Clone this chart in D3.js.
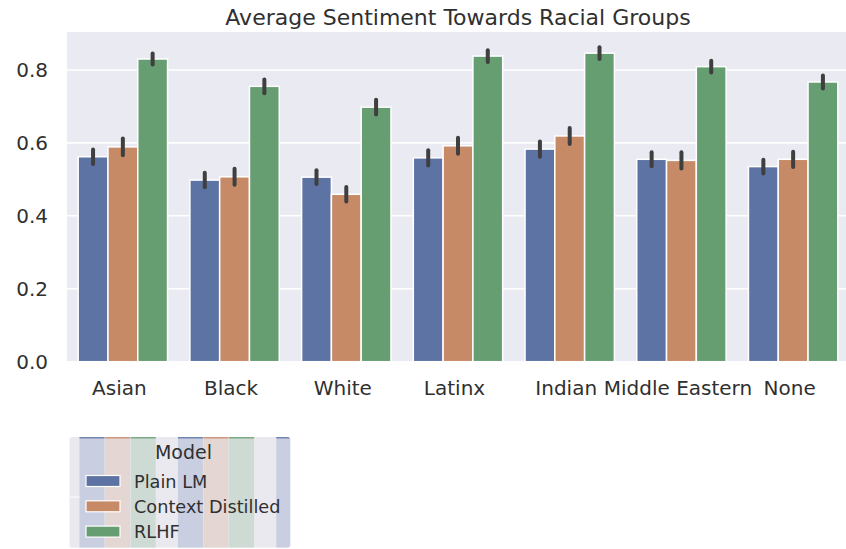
<!DOCTYPE html>
<html>
<head>
<meta charset="utf-8">
<script src="https://cdn.jsdelivr.net/npm/d3@7"></script>
<style>
  html, body { margin: 0; padding: 0; background: #fff; }
  svg { display: block; font-family: "DejaVu Sans", sans-serif; }
</style>
</head>
<body>
<svg id="chart" width="846" height="549"></svg>
<script>
// ---- data ----
const categories = ["Asian", "Black", "White", "Latinx", "Indian", "Middle Eastern", "None"];
const models = ["Plain LM", "Context Distilled", "RLHF"];
const plainLM          = [0.562, 0.498, 0.506, 0.559, 0.583, 0.555, 0.535];
const contextDistilled = [0.589, 0.507, 0.459, 0.592, 0.619, 0.552, 0.555];
const rlhf             = [0.830, 0.755, 0.698, 0.838, 0.846, 0.809, 0.767];
const plainLMErr          = [0.020, 0.020, 0.019, 0.021, 0.021, 0.019, 0.019];
const contextDistilledErr = [0.023, 0.022, 0.020, 0.022, 0.022, 0.022, 0.021];
const rlhfErr             = [0.015, 0.019, 0.020, 0.016, 0.016, 0.016, 0.018];
const yTicks = [0.0, 0.2, 0.4, 0.6, 0.8];
const title = "Average Sentiment Towards Racial Groups";
const legendTitle = "Model";

const colors = ["#5C73A4", "#C78A66", "#669D71"];
const fadedColors = ["#C9CFE0", "#E3D6D3", "#CDDBD4"];

const seriesValues = [plainLM, contextDistilled, rlhf];
const seriesErr = [plainLMErr, contextDistilledErr, rlhfErr];

// ---- layout ----
const svg = d3.select("#chart");
const plot = { left: 67, right: 849, top: 32, bottom: 361.7 };
const textColor = "#303030";

const x = d3.scaleBand().domain(categories).range([plot.left, plot.right]).paddingInner(0).paddingOuter(0);
const inner = d3.scaleBand().domain(models).range([0.1 * x.bandwidth(), 0.9 * x.bandwidth()]);
const y = d3.scaleLinear().domain([0, 0.904]).range([plot.bottom, plot.top]);

// background
svg.append("rect")
  .attr("x", plot.left).attr("y", plot.top)
  .attr("width", plot.right - plot.left).attr("height", plot.bottom - plot.top)
  .attr("fill", "#EAEAF2");

// grid
svg.append("g").selectAll("line").data(yTicks).join("line")
  .attr("x1", plot.left).attr("x2", plot.right)
  .attr("y1", d => y(d)).attr("y2", d => y(d))
  .attr("stroke", "#fff").attr("stroke-width", 1.6);

// bars
const rows = [];
categories.forEach((c, i) => models.forEach((m, j) => rows.push({ c, m, j, v: seriesValues[j][i], e: seriesErr[j][i] })));

svg.append("g").selectAll("rect").data(rows).join("rect")
  .attr("x", d => x(d.c) + inner(d.m))
  .attr("y", d => y(d.v))
  .attr("width", inner.bandwidth())
  .attr("height", d => y(0) - y(d.v))
  .attr("fill", d => colors[d.j])
  .attr("stroke", "#fff").attr("stroke-width", 1.5);

// error bars
svg.append("g").selectAll("line").data(rows).join("line")
  .attr("x1", d => x(d.c) + inner(d.m) + inner.bandwidth() / 2)
  .attr("x2", d => x(d.c) + inner(d.m) + inner.bandwidth() / 2)
  .attr("y1", d => y(d.v - d.e))
  .attr("y2", d => y(d.v + d.e))
  .attr("stroke", "#3f3f3f").attr("stroke-width", 4).attr("stroke-linecap", "round");

// y axis
const yAxis = svg.append("g").attr("transform", `translate(${plot.left},0)`)
  .call(d3.axisLeft(y).tickValues(yTicks).tickFormat(d3.format(".1f")).tickSize(0).tickPadding(19));
yAxis.select(".domain").remove();
yAxis.selectAll("text").attr("font-size", 20).attr("fill", textColor)
  .attr("font-family", "DejaVu Sans, sans-serif");

// x axis
const xAxis = svg.append("g").attr("transform", `translate(0,${plot.bottom})`)
  .call(d3.axisBottom(x).tickSize(0).tickPadding(19.5));
xAxis.select(".domain").remove();
xAxis.selectAll("text").attr("font-size", 20).attr("fill", textColor)
  .attr("dx", -3.5)
  .attr("font-family", "DejaVu Sans, sans-serif");

// title
svg.append("text")
  .attr("x", (plot.left + plot.right) / 2).attr("y", 24.5)
  .attr("text-anchor", "middle")
  .attr("font-size", 22).attr("fill", textColor)
  .text(title);

// legend
const lg = { x: 69.3, y: 437, w: 221, h: 110.7 };
const legend = svg.append("g");
const clip = svg.append("defs").append("clipPath").attr("id", "lgclip");
clip.append("rect").attr("x", lg.x).attr("y", lg.y).attr("width", lg.w).attr("height", lg.h).attr("rx", 3);
const lgBody = legend.append("g").attr("clip-path", "url(#lgclip)");
lgBody.append("rect").attr("x", lg.x).attr("y", lg.y).attr("width", lg.w).attr("height", lg.h).attr("fill", "#E9E9EF");
// faint pattern seen through the semi-transparent legend frame
const stripeStart = 79.5, stripeW = 25.6, stripePeriod = 98.4;
const stripes = [];
for (let k = 0; k < 3; k++) models.forEach((m, j) => stripes.push({ j, x0: stripeStart + k * stripePeriod + j * stripeW }));
lgBody.selectAll("rect.stripe").data(stripes).join("rect").attr("class", "stripe")
  .attr("x", d => d.x0).attr("y", lg.y).attr("width", stripeW - 0.6).attr("height", lg.h)
  .attr("fill", d => fadedColors[d.j]);
lgBody.selectAll("rect.top").data(stripes).join("rect").attr("class", "top")
  .attr("x", d => d.x0).attr("y", lg.y).attr("width", stripeW - 0.6).attr("height", 1.5)
  .attr("fill", d => colors[d.j]).attr("opacity", 0.8);
lgBody.append("line").attr("x1", lg.x).attr("x2", 79.5).attr("y1", 497).attr("y2", 497)
  .attr("stroke", "#fff").attr("stroke-width", 1.2);

legend.append("text").attr("x", 183.5).attr("y", 458.5).attr("text-anchor", "middle")
  .attr("font-size", 19).attr("fill", textColor).text(legendTitle);
const items = legend.selectAll("g.item").data(models).join("g").attr("class", "item")
  .attr("transform", (d, i) => `translate(0,${i * 25.3})`);
items.append("rect").attr("x", 86).attr("y", 475.5).attr("width", 34).attr("height", 11)
  .attr("fill", (d, i) => colors[i]).attr("stroke", "#fff").attr("stroke-width", 1.2);
items.append("text").attr("x", 134).attr("y", 487.5).attr("font-size", 17.7).attr("fill", textColor).text(d => d);
</script>
</body>
</html>
